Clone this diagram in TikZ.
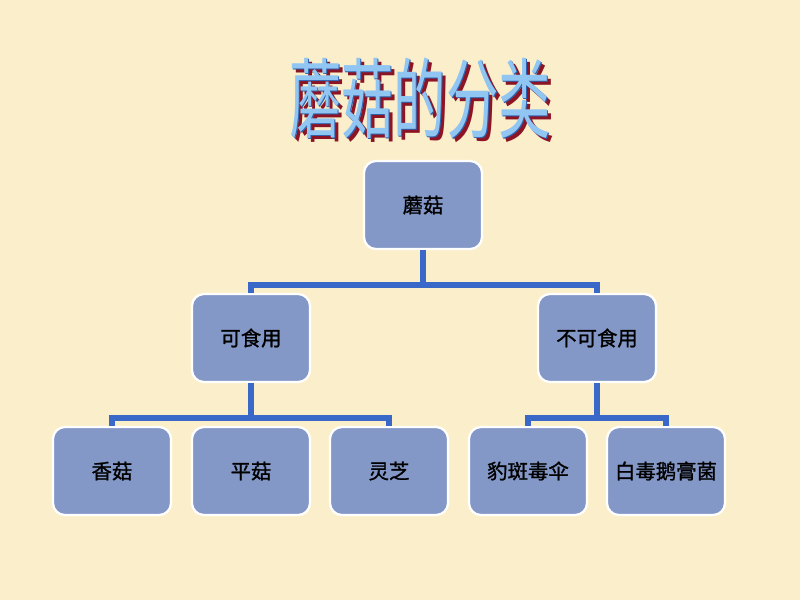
\documentclass[tikz,border=0pt]{standalone}
\usepackage{fontspec}
\newfontfamily\cjk{Noto Sans CJK SC}
\newfontfamily\cjkbox[FakeBold=1.2]{Noto Sans CJK SC}
\definecolor{paper}{HTML}{FBEFCB}
\definecolor{boxfill}{HTML}{8498C8}
\definecolor{linkblue}{HTML}{3A68C8}
\definecolor{titlelight}{HTML}{92C6F2}
\definecolor{titledark}{HTML}{2F62AE}
\definecolor{titlered}{HTML}{8C1424}
\begin{document}
\begin{tikzpicture}[x=0.025cm,y=-0.025cm,
    kind/.style={draw=white,line width=1.6pt,fill=boxfill,rounded corners=0.3cm,
      minimum width=2.95cm,minimum height=2.2cm,inner sep=1pt,
      font=\cjkbox\fontsize{14.5}{17}\selectfont},
    link/.style={draw=linkblue,line width=3.8pt},
    heading/.style={inner sep=0pt,font=\cjk\fontsize{62}{70}\selectfont}]
  \fill[paper] (0,0) rectangle (800,600);
  \useasboundingbox (0,0) rectangle (800,600);
  % title, three layers
  \node[heading,text=titlered] (titleshadow) at (424,102) {\scalebox{0.6}[1]{蘑菇的分类}};
  \node[heading,text=titledark] (titleedge) at (421,99) {\scalebox{0.6}[1]{蘑菇的分类}};
  \node[heading,text=titlelight] (title) at (420,98) {\scalebox{0.6}[1]{蘑菇的分类}};
  % boxes
  \node[kind] (mushroom) at (423,205) {蘑菇};
  \node[kind] (edible) at (251,338) {可食用};
  \node[kind] (inedible) at (597,338) {不可食用};
  \node[kind] (shiitake) at (112,471) {香菇};
  \node[kind] (oyster) at (251,471) {平菇};
  \node[kind] (lingzhi) at (389,471) {灵芝};
  \node[kind] (panther) at (528,471) {豹斑毒伞};
  \node[kind] (amanita) at (666,471) {白毒鹅膏菌};
  % links
  \coordinate (bartop) at (423,285);
  \coordinate (barleft) at (251,418);
  \coordinate (barright) at (597,418);
  \draw[link] (mushroom.south) -- (bartop);
  \draw[link] (bartop) -| (edible.north);
  \draw[link] (bartop) -| (inedible.north);
  \draw[link] (edible.south) -- (barleft);
  \draw[link] (barleft) -| (shiitake.north);
  \draw[link] (barleft) -| (lingzhi.north);
  \draw[link] (inedible.south) -- (barright);
  \draw[link] (barright) -| (panther.north);
  \draw[link] (barright) -| (amanita.north);
\end{tikzpicture}
\end{document}
